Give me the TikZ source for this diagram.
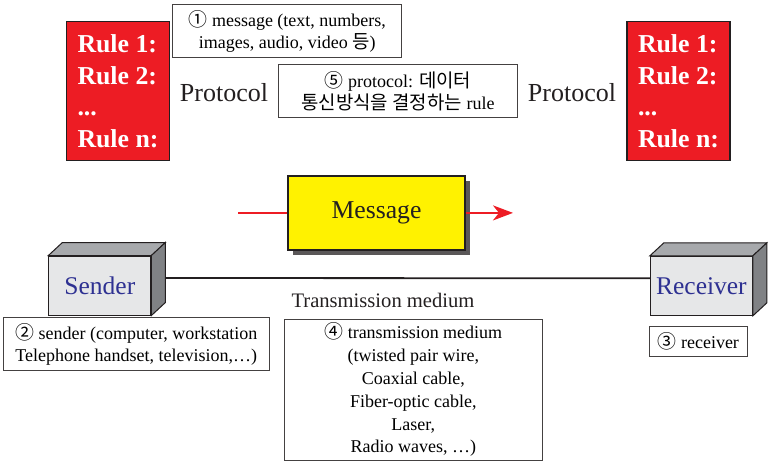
\documentclass[tikz,border=0pt]{standalone}
\usepackage{fontspec}
\setmainfont{Liberation Serif}
\newfontfamily\cjk[Scale=1.05]{Noto Sans CJK KR}
\usepackage{tikz}
\usetikzlibrary{arrows.meta}
\usetikzlibrary{shadows,positioning}
\definecolor{rulered}{HTML}{ED1C24}
\definecolor{msgyellow}{HTML}{FFF200}
\definecolor{devfront}{HTML}{E6E7E8}
\definecolor{devtop}{HTML}{A7A9AC}
\definecolor{devside}{HTML}{808285}
\definecolor{devblue}{HTML}{2E3192}
\definecolor{ink}{HTML}{231F20}
\tikzset{rulebox/.style={draw=ink, line width=1.2pt, fill=rulered,
    text=white, minimum width=103pt, minimum height=139pt, align=left,
    font=\fontsize{25.8}{31.7}\selectfont\bfseries},
  note/.style={draw=ink!85, line width=0.9pt, fill=white, align=center,
    inner sep=0pt, font=\fontsize{18}{22}\selectfont},
  device/.style={draw=ink, line width=1pt, fill=devfront,
    minimum width=102pt, minimum height=59pt, text=devblue,
    font=\fontsize{25.5}{30}\selectfont},
  bigword/.style={text=ink, font=\fontsize{26}{30}\selectfont}}

\begin{document}
\begin{tikzpicture}[x=1pt, y=-1pt,
    msgbox/.style={draw=ink, line width=1.2pt, fill=msgyellow,
      minimum width=177pt, minimum height=74pt, text=ink,
      font=\fontsize{25.7}{30}\selectfont,
      drop shadow={shadow xshift=5pt, shadow yshift=-5pt, fill=ink!75,
        opacity=1}},
    flow/.style={draw=rulered, line width=2.2pt},
    wire/.style={draw=ink, line width=1.8pt}]
  \useasboundingbox (0,0) rectangle (780,463);
  % rules of the protocol
  \node[rulebox] (rulesL) at (118,91.3) {Rule 1:\\Rule 2:\\...\\Rule n:};
  \node[rulebox] (rulesR) at (678.5,91.3) {Rule 1:\\Rule 2:\\...\\Rule n:};
  \node[bigword] (protoL) at (224,93) {Protocol};
  \node[bigword] (protoR) at (572,93) {Protocol};
  \node[note, minimum width=229pt, minimum height=52.6pt] (msgNote)
    at (287.3,31) {{\cjk ①} message (text, numbers,\\images, audio, video {\cjk 등})};
  \node[note, minimum width=238.6pt, minimum height=53pt] (protoNote)
    at (398,90.8) {{\cjk ⑤} protocol: {\cjk 데이터}\\{\cjk 통신방식을 결정하는} rule};
  % message
  \node[msgbox] (msg) at (376.5,212.9) {Message};
  \coordinate (msgIn) at (238,212.9);
  \coordinate (msgOut) at (513,212.9);
  \draw[flow] (msgIn) -- (msg.west);
  \draw[flow, -{Stealth[length=20pt, width=15pt, inset=6pt]}] (msg.east) -- (msgOut);
  % sender and receiver
  \node[device] (snd) at (99.9,285.5) {Sender};
  \node[device] (rcv) at (701.4,285.8) {Receiver};
  \foreach \b in {snd,rcv} {
    \filldraw[draw=ink, line width=1pt, fill=devtop] (\b.north west) -- ++(14,-13)
      -- ([shift={(14,-13)}]\b.north east) -- (\b.north east) -- cycle;
    \filldraw[draw=ink, line width=1pt, fill=devside] (\b.north east) -- ++(14,-13)
      -- ([shift={(14,-13)}]\b.south east) -- (\b.south east) -- cycle;
  }
  \draw[wire] ([shift={(14,-7.5)}]snd.east) -- ([yshift=7.5pt]rcv.west);
  \node[text=ink, font=\fontsize{20.6}{24}\selectfont] (mediumLbl) at (383,300)
    {Transmission medium};
  \node[note, minimum width=266pt, minimum height=53pt] (sndNote)
    at (136.3,344.2) {{\cjk ②} sender (computer, workstation\\Telephone handset, television,\dots)};
  \node[note, minimum width=258.5pt, minimum height=141.7pt,
    font=\fontsize{18}{22.8}\selectfont] (mediumNote) at (413.3,389.9)
    {{\cjk ④} transmission medium\\(twisted pair wire,\\Coaxial cable,\\Fiber-optic cable,\\Laser,\\Radio waves, \dots)};
  \node[note, minimum width=98pt, minimum height=30.7pt] (rcvNote)
    at (698.3,341.3) {{\cjk ③} receiver};
\end{tikzpicture}
\end{document}
